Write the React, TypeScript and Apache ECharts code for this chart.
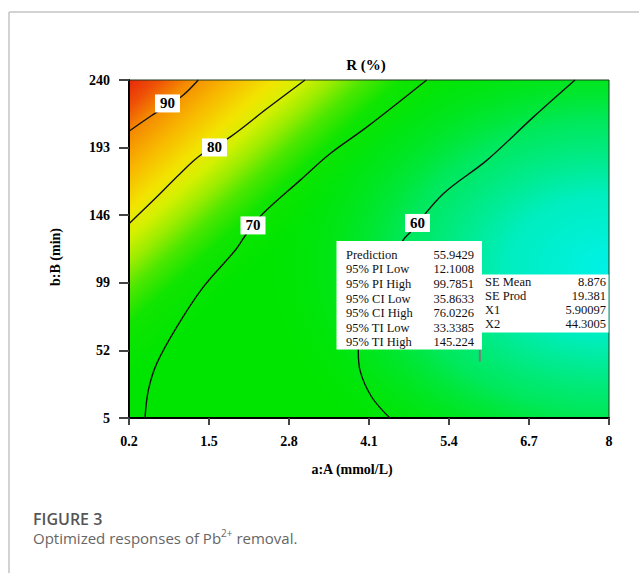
import React, { useEffect, useRef } from "react";
import * as echarts from "echarts";

const SERIF = "'Liberation Serif', 'Times New Roman', serif";
const SANS = "'Open Sans', 'Noto Sans', sans-serif";

const xTicks = [0.2, 1.5, 2.8, 4.1, 5.4, 6.7, 8];
const yTicks = [5, 52, 99, 146, 193, 240];

const contour90 = [[0.2, 204.4], [0.569, 215.3], [0.826, 222.4], [1.073, 229.2], [1.326, 240]];
const contour80 = [[0.2, 140.1], [0.65, 158.6], [1.029, 174.8], [1.354, 187.5], [1.841, 200.3], [2.438, 220.0], [3.06, 240]];
const contour70 = [[0.46, 5], [0.514, 24.2], [0.65, 42.8], [0.975, 68.2], [1.403, 95.8], [1.923, 121.5], [2.113, 133.3], [2.378, 147.2], [2.979, 170.2], [3.466, 188.7], [4.063, 207.2], [5.038, 240]];
const contour60 = [[4.44, 5], [4.144, 19.6], [3.954, 38.1], [3.926, 52.0], [4.035, 76.4], [4.279, 100.7], [4.652, 128.5], [4.766, 134], [5.307, 160.9], [6.013, 184.1], [6.77, 214.2], [7.448, 240]];

const contourLabels: [number, number, string][] = [
  [0.826, 223.7, "90"],
  [1.589, 193.1, "80"],
  [2.215, 138.9, "70"],
  [4.888, 140.6, "60"],
];

const flagPoint = [5.90097, 44.3005];

const infoLeftLabels = ["Prediction", "95% PI Low", "95% PI High", "95% CI Low", "95% CI High", "95% TI Low", "95% TI High"];
const infoLeftValues = ["55.9429", "12.1008", "99.7851", "35.8633", "76.0226", "33.3385", "145.224"];
const infoRightLabels = ["SE Mean", "SE Prod", "X1", "X2"];
const infoRightValues = ["8.876", "19.381", "5.90097", "44.3005"];

const chartTitle = "R (%)";
const xName = "a:A (mmol/L)";
const yName = "b:B (min)";

export default function App() {
  const ref = useRef<HTMLDivElement>(null);
  useEffect(() => {
    if (!ref.current) return;
    const chart = echarts.init(ref.current, undefined, { renderer: "svg" });

    const GL = 129, GT = 80, GW = 480, GH = 338;

    const infoFont = { fontFamily: SERIF, fontSize: 12.5, fill: "#111" };

    const graphic: any[] = [
      { type: "line", shape: { x1: 9, y1: 12, x2: 639, y2: 12 }, style: { stroke: "#c4c4c4", lineWidth: 1.5 }, z: 1 },
      { type: "line", shape: { x1: 9, y1: 12, x2: 9, y2: 573 }, style: { stroke: "#c4c4c4", lineWidth: 1.5 }, z: 1 },
      {
        type: "rect", z: -2, silent: true,
        shape: { x: GL, y: GT, width: GW, height: GH },
        style: {
          fill: {
            type: "linear", global: true, x: GL, y: GT, x2: GL + 270, y2: GT + 300,
            colorStops: [
              { offset: 0, color: "#e8280c" },
              { offset: 0.05, color: "#ee5006" },
              { offset: 0.1, color: "#f48a00" },
              { offset: 0.17, color: "#f8b800" },
              { offset: 0.24, color: "#f2e400" },
              { offset: 0.29, color: "#d4f000" },
              { offset: 0.34, color: "#98ec00" },
              { offset: 0.39, color: "#4ce700" },
              { offset: 0.45, color: "#10e500" },
              { offset: 0.55, color: "#00e500" },
              { offset: 1, color: "#00e500" },
            ],
          },
        },
      },
      {
        type: "rect", z: -1, silent: true,
        shape: { x: GL, y: GT, width: GW, height: GH },
        style: {
          fill: {
            type: "radial", x: 1, y: 0.55, r: 0.72,
            colorStops: [
              { offset: 0, color: "rgba(0,242,232,1)" },
              { offset: 0.3, color: "rgba(0,238,200,0.95)" },
              { offset: 0.6, color: "rgba(0,234,140,0.65)" },
              { offset: 1, color: "rgba(0,230,0,0)" },
            ],
          },
        },
      },
      { type: "text", x: 366, y: 65, z: 20, style: { text: chartTitle, fontFamily: SERIF, fontWeight: "bold", fontSize: 15, fill: "#000", textAlign: "center", textVerticalAlign: "middle" } },
      { type: "text", x: 352, y: 469, z: 20, style: { text: xName, fontFamily: SERIF, fontWeight: "bold", fontSize: 14, fill: "#000", textAlign: "center", textVerticalAlign: "middle" } },
      { type: "text", x: 55, y: 257, rotation: Math.PI / 2, z: 20, style: { text: yName, fontFamily: SERIF, fontWeight: "bold", fontSize: 14, fill: "#000", textAlign: "center", textVerticalAlign: "middle" } },
      { type: "rect", z: 100, shape: { x: 336.5, y: 241, width: 145.5, height: 108.5 }, style: { fill: "#fff" } },
      { type: "rect", z: 100, shape: { x: 481, y: 274.5, width: 127.5, height: 58 }, style: { fill: "#fff" } },
      { type: "text", x: 33, y: 518.5, z: 20, style: { text: "FIGURE 3", fontFamily: SANS, fontWeight: 600, fontSize: 16, fill: "#555", textVerticalAlign: "middle" } },
      {
        type: "text", x: 33, y: 538, z: 20,
        style: {
          text: "Optimized responses of Pb{sup|2+} removal.",
          fontFamily: SANS, fontSize: 15, fill: "#666", textVerticalAlign: "middle", lineHeight: 20,
          rich: { sup: { fontFamily: SANS, fontSize: 10, fill: "#666", verticalAlign: "top", lineHeight: 20 } },
        },
      },
    ];
    infoLeftLabels.forEach((t, i) => {
      const y = 254.7 + i * 14.6;
      graphic.push({ type: "text", z: 101, x: 346, y, style: { ...infoFont, text: t, textVerticalAlign: "middle" } });
      graphic.push({ type: "text", z: 101, x: 474, y, style: { ...infoFont, text: infoLeftValues[i], textAlign: "right", textVerticalAlign: "middle" } });
    });
    infoRightLabels.forEach((t, i) => {
      const y = 281.5 + i * 14.2;
      graphic.push({ type: "text", z: 101, x: 485, y, style: { ...infoFont, text: t, textVerticalAlign: "middle" } });
      graphic.push({ type: "text", z: 101, x: 606, y, style: { ...infoFont, text: infoRightValues[i], textAlign: "right", textVerticalAlign: "middle" } });
    });

    const axisLabelStyle = { color: "#000", fontFamily: SERIF, fontWeight: "bold", fontSize: 14 };

    const contourSeries = [contour90, contour80, contour70, contour60].map((d, i) => ({
      type: "line",
      name: "c" + i,
      data: d,
      showSymbol: false,
      smooth: 0.35,
      silent: true,
      z: 3,
      lineStyle: { color: "#111", width: 1.4 },
    }));

    const option: any = {
      animation: false,
      backgroundColor: "#fff",
      grid: { left: GL, top: GT, right: 639 - GL - GW, bottom: 573 - GT - GH, show: true, borderColor: "#1c3a1c", borderWidth: 1, backgroundColor: "transparent" },
      xAxis: {
        type: "value", min: 0.2, max: 8,
        splitLine: { show: false },
        axisLine: { onZero: false, lineStyle: { color: "#000", width: 2 } },
        axisTick: { customValues: xTicks, length: 7, lineStyle: { color: "#444", width: 2 } },
        axisLabel: { customValues: xTicks, margin: 16, ...axisLabelStyle },
      },
      yAxis: {
        type: "value", min: 5, max: 240,
        splitLine: { show: false },
        axisLine: { onZero: false, lineStyle: { color: "#000", width: 2 } },
        axisTick: { customValues: yTicks, length: 10, lineStyle: { color: "#444", width: 2 } },
        axisLabel: { customValues: yTicks, margin: 19, ...axisLabelStyle },
      },
      series: [
        ...contourSeries,
        {
          type: "scatter",
          data: contourLabels.map((d) => ({ value: [d[0], d[1]], name: d[2] })),
          symbolSize: 1,
          itemStyle: { color: "rgba(0,0,0,0)", opacity: 1 },
          silent: true,
          z: 5,
          label: {
            show: true, position: "inside", formatter: "{b}", opacity: 1,
            backgroundColor: "#ffffff", padding: [2, 5, 1, 5],
            fontFamily: SERIF, fontWeight: "bold", fontSize: 15, color: "#000",
          },
        },
        {
          type: "scatter",
          data: [flagPoint],
          symbol: "rect",
          symbolSize: [2, 12],
          symbolOffset: [0, -6],
          itemStyle: { color: "#7a7a7a", opacity: 1 },
          silent: true,
          z: 6,
        },
      ],
      graphic,
    };
    chart.setOption(option);
    return () => chart.dispose();
  }, []);
  return <div ref={ref} style={{ position: "absolute", left: 0, top: 0, width: 639, height: 573 }} />;
}
